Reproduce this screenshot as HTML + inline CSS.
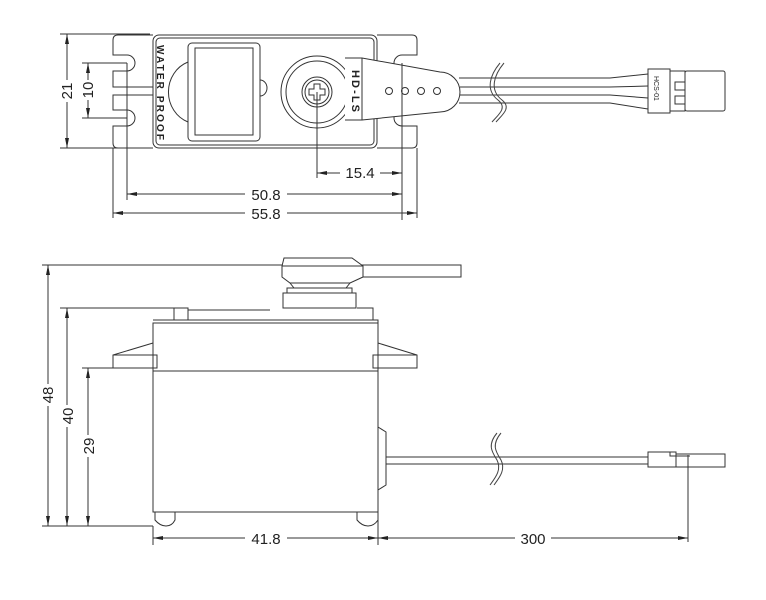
<!DOCTYPE html>
<html><head><meta charset="utf-8"><style>
html,body{margin:0;padding:0;background:#fff;}
svg{display:block;}
text{font-family:"Liberation Sans",sans-serif;fill:#222;}
</style></head><body>
<svg width="766" height="600" viewBox="0 0 766 600" xmlns="http://www.w3.org/2000/svg">
<defs>
<marker id="a" viewBox="0 0 10 4" refX="10" refY="2" markerWidth="10" markerHeight="4" orient="auto-start-reverse" markerUnits="userSpaceOnUse"><path d="M0,0 L10,2 L0,4 z" fill="#222"/></marker>
</defs>
<g stroke="#333" stroke-width="1" fill="none">
<!-- TOP VIEW -->
<path d="M153,35 H118 Q113,35 113,40 V55 H127 A8,8 0 0 1 127,71 H113 V87 H153"/>
<path d="M153,95 H113 V110 H127 A8,8 0 0 1 127,126 H113 V143 Q113,148 118,148 H153"/>
<path d="M377,35 H412 Q417,35 417,40 V55 H402 A8,8 0 0 0 402,71 H417 V110 H402 A8,8 0 0 0 402,126 H417 V143 Q417,148 412,148 H377"/>
<rect x="153" y="35" width="224" height="113" rx="6" fill="#fff"/>
<rect x="156" y="38" width="218" height="107" rx="4"/>
<path d="M188,62 A30,32 0 0 0 188,122"/>
<path d="M260,80 A7,8 0 0 1 260,96"/>
<rect x="188" y="43" width="72" height="98" rx="4" fill="#fff"/>
<rect x="195" y="48" width="58" height="87"/>
<circle cx="317" cy="92" r="36" fill="#fff"/>
<circle cx="317" cy="92" r="31"/>
<circle cx="317" cy="92" r="15"/>
<circle cx="317" cy="92" r="12"/>
<path d="M314,84 h6 v5 h5 v6 h-5 v5 h-6 v-5 h-5 v-6 h5 z"/>
<path d="M345,58 L362,58 L440,72 A20,20 0 0 1 440,112 L362,120 L345,120" fill="#fff"/>
<path d="M362,58 V120"/>
<circle cx="389" cy="91" r="3.5"/><circle cx="405" cy="91" r="3.5"/><circle cx="421" cy="91" r="3.5"/><circle cx="437" cy="91" r="3.5"/>
<path d="M459,78 H610 L648,74 M460,87 H610 L648,86 M460,95 H610 L648,98 M459,103 H610 L648,109"/>
<path d="M500,63 C490,75 485,90 498,100 C508,108 498,115 492,122 M504,63 C494,75 489,90 502,100 C512,108 502,115 496,122" stroke="#444"/>
<rect x="648" y="69" width="22" height="44" fill="#fff"/>
<rect x="670" y="71" width="15" height="40"/>
<rect x="685" y="71" width="40" height="40" rx="2"/>
<rect x="675" y="82" width="10" height="8"/><rect x="675" y="96" width="10" height="8"/>
<path d="M60,34 H150 M60,148 H150 M82,63 H127 M82,118 H127"/>
<path d="M67,34 V148" marker-start="url(#a)" marker-end="url(#a)"/>
<path d="M88,63 V118" marker-start="url(#a)" marker-end="url(#a)"/>
<path d="M127,63 V200 M402,63 V220 M317,92 V178 M113,148 V218 M417,148 V218"/>
<path d="M317,173 H402" marker-start="url(#a)" marker-end="url(#a)"/>
<path d="M127,194 H402" marker-start="url(#a)" marker-end="url(#a)"/>
<path d="M113,213 H417" marker-start="url(#a)" marker-end="url(#a)"/>

<!-- SIDE VIEW -->
<path d="M282,265 H461 V277 H363"/>
<path d="M284,258 H352 L363,266 V277 L350,283 H290 L282,277 V266 Z" fill="#fff"/>
<path d="M282,266 H363"/>
<path d="M290,283 L294,288 H346 L350,283"/>
<rect x="287" y="288" width="65" height="5"/>
<rect x="283" y="293" width="73" height="15"/>
<path d="M174,320 V308 H188 V320 M188,310 H270 M357,308 H373 V320"/>
<path d="M153,320 H378 V323 M153,323 H378"/>
<rect x="153" y="323" width="225" height="189"/>
<path d="M153,371 H378"/>
<path d="M153,343 L113,355 V368 H157 V355 H113 M378,343 L417,355 V368 H373 V355 H417"/>
<path d="M155,512 V520 Q160,526 166,526 Q172,526 175,520 V512 M357,512 V520 Q362,526 368,526 Q374,526 378,520 V512"/>
<path d="M378,427 L386,432 V485 L378,490"/>
<path d="M386,457 H648 M386,464 H648"/>
<path d="M497,433 C487,445 492,452 497,460 C502,470 495,478 490,485 M501,433 C491,445 496,452 501,460 C506,470 499,478 494,485" stroke="#444"/>
<rect x="648" y="452" width="28" height="15" fill="#fff"/>
<rect x="676" y="454" width="49" height="13"/>
<path d="M670,452 V456 H690"/>
<path d="M42,265 H282 M60,308 H174 M82,368 H113 M42,526 H153"/>
<path d="M48,265 V526" marker-start="url(#a)" marker-end="url(#a)"/>
<path d="M67,308 V526" marker-start="url(#a)" marker-end="url(#a)"/>
<path d="M88,368 V526" marker-start="url(#a)" marker-end="url(#a)"/>
<path d="M153,526 V545 M378,512 V545 M688,455 V542"/>
<path d="M153,538 H378" marker-start="url(#a)" marker-end="url(#a)"/>
<path d="M378,538 H688" marker-start="url(#a)" marker-end="url(#a)"/>
</g>
<g font-size="15">
<rect x="340" y="166" width="40" height="14" fill="#fff"/>
<text x="360" y="178" text-anchor="middle">15.4</text>
<rect x="245" y="187" width="42" height="14" fill="#fff"/>
<text x="266" y="200" text-anchor="middle">50.8</text>
<rect x="245" y="206" width="42" height="14" fill="#fff"/>
<text x="266" y="219" text-anchor="middle">55.8</text>
<rect x="245" y="531" width="42" height="14" fill="#fff"/>
<text x="266" y="544" text-anchor="middle">41.8</text>
<rect x="515" y="531" width="36" height="14" fill="#fff"/>
<text x="533" y="544" text-anchor="middle">300</text>
<g fill="#fff"><rect x="55" y="80" width="14" height="22"/><rect x="80" y="80" width="14" height="20"/><rect x="36" y="384" width="14" height="22"/><rect x="56" y="405" width="14" height="22"/><rect x="77" y="435" width="14" height="22"/></g>
<text transform="translate(72,91) rotate(-90)" text-anchor="middle">21</text>
<text transform="translate(93,90) rotate(-90)" text-anchor="middle">10</text>
<text transform="translate(53,395) rotate(-90)" text-anchor="middle">48</text>
<text transform="translate(73,416) rotate(-90)" text-anchor="middle">40</text>
<text transform="translate(94,446) rotate(-90)" text-anchor="middle">29</text>
</g>
<text transform="translate(157,45) rotate(90)" font-size="10" font-weight="bold" textLength="95" lengthAdjust="spacing">WATER PROOF</text>
<text transform="translate(352,70) rotate(90)" font-size="11" font-weight="bold" textLength="42">HD-LS</text>
<text transform="translate(654,76) rotate(90)" font-size="7">HCS-01</text>
</svg>
</body></html>
